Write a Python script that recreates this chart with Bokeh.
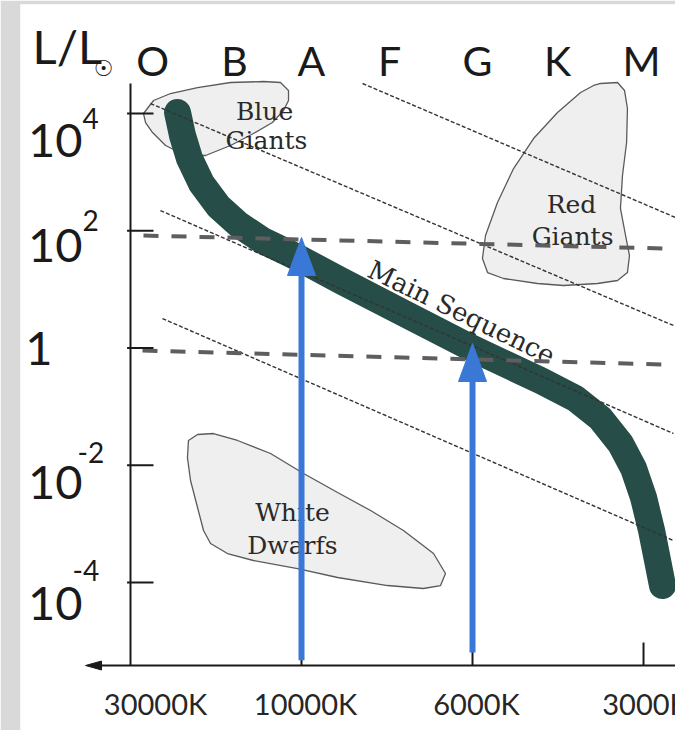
from bokeh.plotting import figure
from bokeh.models import Range1d, ColumnDataSource
from bokeh.core.properties import value
from bokeh.embed import file_html
from bokeh.resources import INLINE

# ---------------- data ----------------
# x: temperature tick index (30000K=0 ... 3000K=3); y: log10(L/Lsun)
temp_labels = ["30000K", "10000K", "6000K", "3000K"]
temp_pos = [0, 1, 2, 3]
lum_exps = [4, 2, 0, -2, -4]
lum_base = ["10", "10", "1", "10", "10"]
lum_sup = ["4", "2", "", "-2", "-4"]
spec_classes = ["O", "B", "A", "F", "G", "K", "M"]
spec_pos = [0.129, 0.608, 1.058, 1.515, 2.029, 2.497, 2.988]

ms_t = [0.275, 0.304, 0.345, 0.415, 0.515, 0.632, 0.772, 0.906, 1.000, 1.228, 1.579,
        2.000, 2.398, 2.602, 2.749, 2.865, 2.942, 3.000, 3.047, 3.082, 3.111]
ms_e = [4.019, 3.626, 3.234, 2.807, 2.415, 2.108, 1.834, 1.647, 1.510, 1.152, 0.623,
        -0.009, -0.555, -0.862, -1.203, -1.630, -2.056, -2.551, -3.114, -3.626, -4.053]

blue_t = [0.076, 0.135, 0.234, 0.392, 0.585, 0.778, 0.877, 0.924, 0.924, 0.895, 0.830,
          0.719, 0.585, 0.439, 0.322, 0.205, 0.129, 0.088]
blue_e = [4.002, 4.224, 4.343, 4.445, 4.531, 4.548, 4.531, 4.394, 4.224, 4.053, 3.848,
          3.660, 3.456, 3.285, 3.285, 3.456, 3.677, 3.848]

red_t = [2.749, 2.848, 2.889, 2.906, 2.901, 2.877, 2.865, 2.895, 2.918, 2.906, 2.848, 2.731,
         2.532, 2.380, 2.181, 2.088, 2.058, 2.076, 2.146, 2.240, 2.357, 2.497, 2.632, 2.708]
red_e = [4.514, 4.531, 4.394, 4.087, 3.507, 2.944, 2.381, 1.920, 1.578, 1.288, 1.152, 1.101,
         1.067, 1.101, 1.186, 1.288, 1.527, 1.920, 2.483, 3.063, 3.575, 4.019, 4.360, 4.480]

wd_t = [0.339, 0.392, 0.485, 0.626, 0.819, 1.012, 1.211, 1.404, 1.596, 1.772, 1.842, 1.813,
        1.713, 1.503, 1.211, 0.977, 0.719, 0.567, 0.468, 0.427, 0.392, 0.351, 0.333]
wd_e = [-1.578, -1.476, -1.459, -1.578, -1.800, -2.142, -2.466, -2.773, -3.114, -3.507, -3.848,
        -4.053, -4.104, -4.053, -3.916, -3.763, -3.626, -3.507, -3.336, -3.114, -2.722, -2.261, -1.869]

# constant-radius (dotted) lines: start/end
rad_t0 = [1.357, 0.117, 0.175, 0.187]
rad_e0 = [4.514, 4.172, 2.346, 0.503]
rad_t1 = [3.187, 3.175, 3.175, 3.175]
rad_e1 = [2.227, 0.384, -1.459, -3.285]

# luminosity reference (dashed) lines
lev_t0 = [0.076, 0.070]
lev_e0 = [1.920, -0.043]
lev_t1 = [3.117, 3.117]
lev_e1 = [1.698, -0.282]

# blue arrows
arrow_t = [1, 2]
arrow_tip_e = [1.886, 0.077]
arrow_base_e = [-5.33, -5.196]

region_labels = ["Blue", "Giants", "Red", "Giants", "White", "Dwarfs"]
region_t = [0.784, 0.795, 2.579, 2.585, 0.947, 0.947]
region_e = [4.036, 3.541, 2.449, 1.903, -2.807, -3.370]

# ---------------- layout ----------------
W, H = 675, 730
LB, TB = 20, 4
x0, x1 = -0.6433, 3.187
e1 = 5.862
e0 = -6.527
sx = (W - LB) / (x1 - x0)
sy = (H - TB) / (e1 - e0)
axis_e = -5.418
axis_top_e = 4.514
axis_left_t = -0.263

def L(v):
    return [10 ** a for a in v] if isinstance(v, list) else 10 ** v

p = figure(width=W, height=H, x_range=Range1d(x0, x1), y_range=Range1d(10 ** e0, 10 ** e1),
           y_axis_type="log", x_axis_location=None, y_axis_location=None,
           toolbar_location=None, output_backend="svg", min_border=0, min_border_left=LB,
           min_border_top=TB, border_fill_color="#d9d9d9", background_fill_color="white",
           outline_line_color=None)
p.grid.visible = False

# regions
for xs, ys in [(blue_t, blue_e), (red_t, red_e), (wd_t, wd_e)]:
    p.patch(xs, L(ys), fill_color="#efefef", line_color="#5a5a5a", line_width=1.3)

# main sequence band
p.line(ms_t, L(ms_e), line_width=27, line_color="#264d48", line_cap="round", line_join="round")

# dotted radius lines
p.segment(rad_t0, L(rad_e0), rad_t1, L(rad_e1), line_color="#333333", line_width=1.4,
          line_dash="4 2")

# region labels
p.text(region_t, L(region_e), text=region_labels, text_font=value("DejaVu Serif"),
       text_font_size="25px", text_align="center", text_baseline="middle",
       text_color="#2a2a2a")
p.text([1.936], [L(0.606)], text=["Main Sequence"], text_font=value("DejaVu Serif"),
       text_font_size="26px", text_align="center", text_baseline="middle",
       angle=-0.452, text_color="#2a2a2a")

# dashed luminosity lines
p.segment(lev_t0, L(lev_e0), lev_t1, L(lev_e1), line_color="#5e5e5e", line_width=4,
          line_dash="15 13")

# axes
p.line([0, 0], [L(axis_top_e), L(axis_e)], line_color="#1a1a1a", line_width=2)
p.line([axis_left_t + 10 / sx, x1 + 0.2], [L(axis_e), L(axis_e)], line_color="#1a1a1a", line_width=2)
p.patch([axis_left_t, axis_left_t + 16 / sx, axis_left_t + 16 / sx],
        [L(axis_e), L(axis_e + 4.5 / sy), L(axis_e - 4.5 / sy)], color="#1a1a1a")
tick_len_x = 23 / sx
tick_len_y = 23 / sy
p.segment([-0.02] * len(lum_exps), L(lum_exps), [tick_len_x] * len(lum_exps), L(lum_exps),
          line_color="#1a1a1a", line_width=2)
p.segment(temp_pos[1:], [L(axis_e)] * 3, temp_pos[1:], [L(axis_e + tick_len_y)] * 3,
          line_color="#1a1a1a", line_width=2)

# blue arrows
head_len = 38 / sy
head_half = 14 / sx
for t, tip, base in zip(arrow_t, arrow_tip_e, arrow_base_e):
    p.line([t, t], [L(base), L(tip - head_len + 0.05)], line_color="#3a78d8", line_width=6)
    p.patch([t - head_half, t, t + head_half], [L(tip - head_len), L(tip), L(tip - head_len)],
            color="#3a78d8")

# tick labels (y)
base_off_y = [26.5, 15, 0.5, 17.5, 21.5]
base_off_x = [-48, -48, -78, -48, -48]
ysrc = ColumnDataSource(dict(x=[0] * 5, y=L(lum_exps), text=lum_base, xo=base_off_x, yo=base_off_y))
p.text("x", "y", text="text", source=ysrc, x_offset="xo", y_offset="yo",
       text_font=value("Lato"), text_font_size="47px", text_align="right",
       text_baseline="middle", text_color="#1a1a1a")
sup_idx = [i for i, s in enumerate(lum_sup) if s]
sup_off_y = [5, -10, -12.5, -12]
sup_off_x = [-48, -48, -53, -58]
ssrc = ColumnDataSource(dict(x=[0] * len(sup_idx), y=[L(lum_exps[i]) for i in sup_idx],
                             text=[lum_sup[i] for i in sup_idx], xo=sup_off_x, yo=sup_off_y))
p.text("x", "y", text="text", source=ssrc, x_offset="xo", y_offset="yo",
       text_font=value("Lato"), text_font_size="28px", text_align="left",
       text_baseline="middle", text_color="#1a1a1a")

# tick labels (x)
xsrc = ColumnDataSource(dict(x=temp_pos, y=[L(axis_e)] * 4, text=temp_labels,
                             xo=[25, 4, 4, 2], yo=[37.5] * 4))
p.text("x", "y", text="text", source=xsrc, x_offset="xo", y_offset="yo",
       text_font=value("Lato"), text_font_size="29px", text_align="center",
       text_baseline="middle", text_color="#262626")

# spectral classes along the top
p.text(spec_pos, [L(4.906)] * len(spec_pos), text=spec_classes, text_font=value("Lato"),
       text_font_size="41px", text_align="center", text_baseline="middle",
       text_color="#1a1a1a")

# axis title L/L_sun
p.text([-0.573], [L(5.162)], text=["L/L"], text_font=value("Lato"), text_font_size="47px",
       text_align="left", text_baseline="middle", text_color="#1a1a1a")
p.text([-0.158], [L(4.77)], text=["\u2609"], text_font=value("DejaVu Sans"), text_font_size="22px",
       text_align="center", text_baseline="middle", text_color="#1a1a1a")

open("out.html", "w").write(file_html(p, INLINE))
